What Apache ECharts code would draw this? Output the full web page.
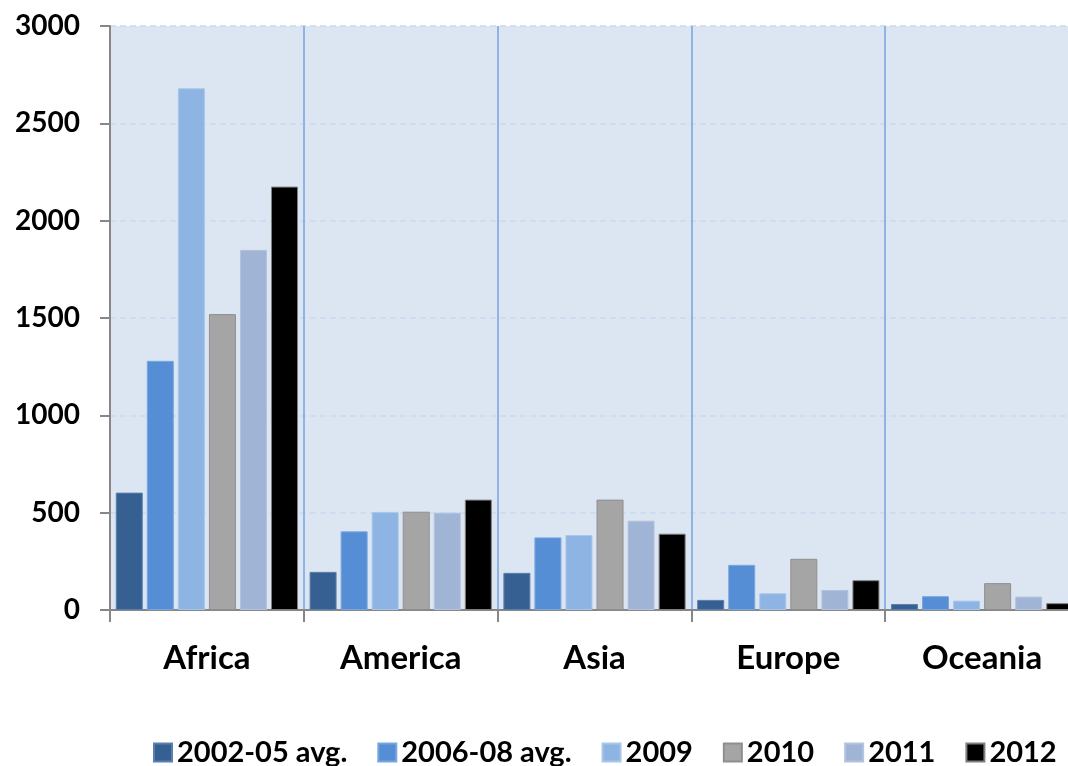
<!DOCTYPE html>
<html>
<head>
<meta charset="utf-8">
<script src="https://cdn.jsdelivr.net/npm/echarts@6/dist/echarts.min.js"></script>
<style>
  html, body { margin: 0; padding: 0; background: #ffffff; }
  #chart { width: 1068px; height: 766px; }
</style>
</head>
<body>
<div id="chart"></div>
<script>
// Regions on the category axis
const regions = ['Africa', 'America', 'Asia', 'Europe', 'Oceania'];

// One series per period, values per region
const periodNames = ['2002-05 avg.', '2006-08 avg.', '2009', '2010', '2011', '2012'];
const avg2002to05 = [603, 196, 191, 52, 31];
const avg2006to08 = [1280, 404, 373, 232, 71];
const y2009 = [2680, 504, 385, 86, 48];
const y2010 = [1520, 505, 567, 263, 138];
const y2011 = [1850, 500, 459, 103, 69];
const y2012 = [2175, 567, 392, 153, 35];

// Value axis range
const yMin = 0;
const yMax = 3000;
const yStep = 500;

const seriesValues = [avg2002to05, avg2006to08, y2009, y2010, y2011, y2012];
const fills = ['#376092', '#558ed5', '#8db4e2', '#a5a5a5', '#a0b4d6', '#000000'];
const edges = ['#5b80ae', '#7aa6de', '#a9c6ea', '#8f8f8f', '#b4c3de', '#7f7f7f'];

const fontFamily = 'Lato, "Open Sans", sans-serif';

const chart = echarts.init(document.getElementById('chart'), null, { renderer: 'canvas' });

chart.setOption({
  animation: false,
  backgroundColor: '#ffffff',
  grid: {
    left: 110,
    top: 26,
    bottom: 156,
    width: 969,
    outerBoundsMode: 'none',
    show: true,
    backgroundColor: '#dce6f2',
    borderWidth: 0,
    containLabel: false
  },
  legend: {
    data: periodNames,
    left: 153,
    top: 738,
    width: 1000,
    padding: 0,
    icon: 'rect',
    itemWidth: 18,
    itemHeight: 18,
    itemGap: 30,
    textStyle: {
      fontFamily: fontFamily,
      fontWeight: 'bold',
      fontSize: 29,
      color: '#000000'
    }
  },
  xAxis: {
    type: 'category',
    data: regions,
    boundaryGap: true,
    axisLine: { show: true, lineStyle: { color: '#878787', width: 2 } },
    axisTick: { show: true, alignWithLabel: false, length: 12, lineStyle: { color: '#878787', width: 2 } },
    splitLine: { show: true, lineStyle: { color: '#8eb4e3', width: 2 } },
    axisLabel: {
      margin: 32,
      fontFamily: fontFamily,
      fontWeight: 'bold',
      fontSize: 33,
      color: '#000000'
    }
  },
  yAxis: {
    type: 'value',
    min: yMin,
    max: yMax,
    interval: yStep,
    axisLine: { show: true, lineStyle: { color: '#878787', width: 2 } },
    axisTick: { show: true, length: 10, lineStyle: { color: '#878787', width: 2 } },
    splitLine: { show: true, lineStyle: { color: '#c6d9f1', width: 1.5, type: [6, 4] } },
    axisLabel: {
      margin: 30,
      fontFamily: fontFamily,
      fontWeight: 'bold',
      fontSize: 28,
      color: '#000000',
      formatter: (v) => String(v)
    }
  },
  series: periodNames.map((name, i) => ({
    name: name,
    type: 'bar',
    data: seriesValues[i],
    barWidth: 27,
    barGap: '15%',
    itemStyle: {
      color: fills[i],
      borderColor: edges[i],
      borderWidth: 1
    }
  }))
});
</script>
</body>
</html>
